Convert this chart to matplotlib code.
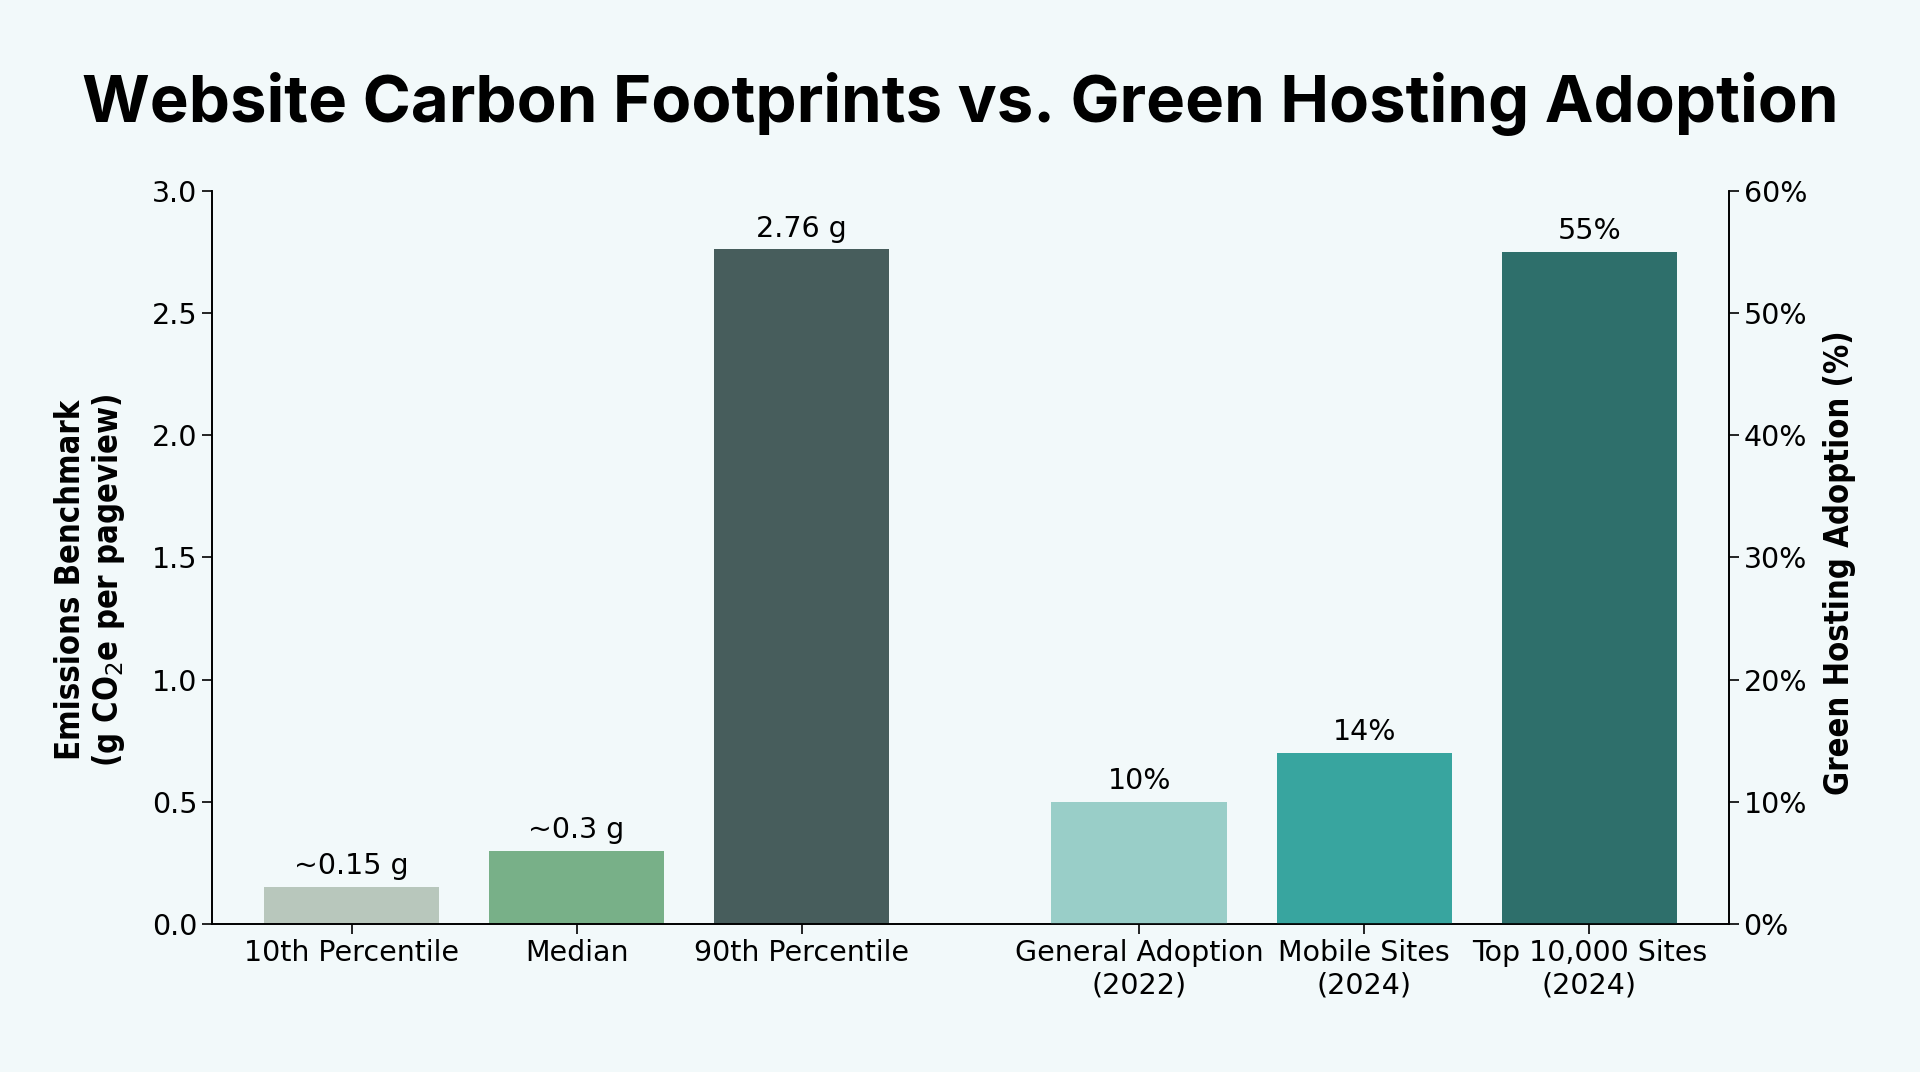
import numpy as np
import matplotlib.pyplot as plt
from matplotlib.ticker import PercentFormatter

# emissions per pageview (g CO2e)
emis_labels = ['10th Percentile', 'Median', '90th Percentile']
emis_values = [0.15, 0.3, 2.76]
emis_text = ['~0.15 g', '~0.3 g', '2.76 g']
emis_colors = ['#b8c7bc', '#78b088', '#475d5c']

# green hosting adoption (%)
adopt_labels = ['General Adoption\n(2022)', 'Mobile Sites\n(2024)', 'Top 10,000 Sites\n(2024)']
adopt_values = [10, 14, 55]
adopt_text = ['10%', '14%', '55%']
adopt_colors = ['#99cec8', '#38a59f', '#2e6f6b']

bg = '#f2f9fa'

fig = plt.figure(figsize=(19.2, 10.72), dpi=100, facecolor=bg)
ax = fig.add_axes([0.1104, 0.138, 0.7901, 0.684])
ax.set_facecolor(bg)
ax2 = ax.twinx()

x1 = np.arange(len(emis_values))
x2 = np.arange(len(adopt_values)) + 3.5
w = 0.78

b1 = ax.bar(x1, emis_values, width=w, color=emis_colors)
b2 = ax2.bar(x2, adopt_values, width=w, color=adopt_colors)
ax.bar_label(b1, labels=emis_text, padding=5, fontsize=20.5)
ax2.bar_label(b2, labels=adopt_text, padding=5, fontsize=20.5)

ax.set_xlim(-0.62, 6.12)
ax.set_ylim(0, 3)
ax2.set_ylim(0, 60)
ax.set_yticks(np.arange(0, 3.01, 0.5))
ax2.set_yticks(np.arange(0, 61, 10))
ax2.yaxis.set_major_formatter(PercentFormatter(decimals=0))

ax.set_xticks(list(x1) + list(x2))
ax.set_xticklabels(emis_labels + adopt_labels)

for a in (ax, ax2):
    a.spines['top'].set_visible(False)
    a.tick_params(labelsize=20.5, length=7, width=1.2)
    for s in a.spines.values():
        s.set_linewidth(1.2)

lab = dict(fontsize=23.5, fontweight='bold', fontstretch='condensed', family='DejaVu Sans')
fig.text(0.047, 0.459, 'Emissions Benchmark\n(g CO$_2$e per pageview)', rotation=90,
         ha='center', va='center', linespacing=1.1, **lab)
fig.text(0.958, 0.475, 'Green Hosting Adoption (%)', rotation=90,
         ha='center', va='center', **lab)

fig.text(0.5, 1 - 122 / 1072, 'Website Carbon Footprints vs. Green Hosting Adoption',
         ha='center', va='baseline', fontsize=47, fontweight='bold', family='Inter')

fig.savefig('out.png', dpi=100, facecolor=bg)
